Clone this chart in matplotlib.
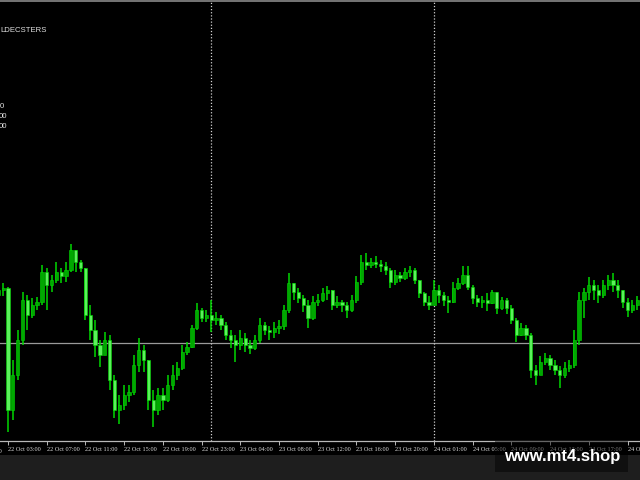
import matplotlib
matplotlib.use("Agg")
import matplotlib.pyplot as plt
from matplotlib.patches import Rectangle
import matplotlib.transforms as mtransforms

# ---- data (M30 candles, price in chart points) ----
opens = [146, 151, 153, 31, 66, 101, 141, 126, 136, 139, 169, 156, 161, 169, 165, 171, 191, 179, 173, 126,
         111, 96, 86, 101, 61, 31, 36, 46, 49, 76, 91, 81, 41, 31, 46, 41, 56, 66, 73, 89,
         94, 113, 131, 123, 126, 121, 123, 116, 106, 101, 96, 103, 96, 93, 101, 116, 111, 109, 113, 115,
         131, 158, 149, 143, 136, 123, 139, 141, 148, 151, 136, 139, 136, 131, 141, 159, 179, 176, 179, 177,
         175, 171, 159, 166, 163, 169, 171, 161, 148, 139, 136, 151, 146, 141, 139, 153, 158, 166, 154, 143,
         139, 141, 138, 149, 133, 141, 133, 121, 106, 113, 106, 71, 66, 79, 83, 76, 71, 66, 73, 76,
         101, 141, 149, 156, 151, 146, 156, 161, 156, 151, 139, 131, 136]
highs = [158, 158, 154, 81, 111, 149, 146, 143, 144, 176, 173, 166, 179, 173, 179, 197, 191, 181, 173, 136,
         121, 101, 109, 106, 66, 46, 56, 56, 86, 103, 96, 81, 51, 53, 53, 66, 76, 79, 96, 99,
         116, 138, 133, 131, 141, 129, 126, 119, 111, 106, 111, 108, 101, 106, 123, 119, 115, 119, 121, 136,
         168, 158, 153, 146, 141, 145, 147, 153, 155, 151, 145, 141, 139, 146, 165, 186, 188, 183, 185, 181,
         179, 173, 171, 169, 173, 175, 173, 161, 149, 145, 161, 156, 149, 145, 159, 163, 175, 175, 156, 146,
         145, 148, 151, 149, 144, 143, 136, 123, 118, 116, 108, 76, 85, 88, 86, 81, 75, 79, 81, 111,
         149, 153, 164, 161, 156, 161, 166, 168, 161, 151, 143, 141, 145]
lows = [141, 145, 9, 21, 61, 96, 111, 123, 131, 136, 131, 149, 158, 158, 159, 169, 169, 169, 121, 101,
        84, 74, 86, 51, 23, 17, 31, 39, 46, 69, 69, 31, 14, 26, 31, 39, 51, 61, 71, 86,
        93, 111, 119, 119, 109, 116, 111, 101, 93, 79, 91, 89, 87, 91, 98, 106, 101, 103, 107, 111,
        128, 141, 138, 129, 113, 121, 135, 139, 141, 131, 133, 129, 123, 129, 138, 156, 171, 173, 173, 169,
        166, 153, 156, 159, 161, 164, 157, 143, 135, 131, 136, 138, 135, 128, 138, 151, 156, 151, 137, 134,
        133, 130, 137, 127, 131, 127, 117, 99, 105, 101, 63, 56, 66, 76, 71, 66, 53, 63, 69, 73,
        96, 123, 141, 141, 138, 143, 151, 149, 143, 133, 124, 128, 131]
closes = [151, 153, 31, 66, 101, 141, 126, 136, 139, 169, 156, 161, 169, 165, 171, 191, 179, 173, 126, 111,
          96, 86, 101, 61, 31, 36, 46, 49, 76, 91, 81, 41, 31, 46, 41, 56, 66, 73, 89, 94,
          113, 131, 123, 126, 121, 123, 116, 106, 101, 96, 103, 96, 93, 101, 116, 111, 109, 113, 115, 131,
          158, 149, 143, 136, 123, 139, 141, 148, 151, 136, 139, 136, 131, 141, 159, 179, 176, 179, 177, 175,
          171, 159, 166, 163, 169, 171, 161, 148, 139, 136, 151, 146, 141, 139, 153, 158, 166, 154, 143, 139,
          141, 138, 149, 133, 141, 133, 121, 106, 113, 106, 71, 66, 79, 83, 76, 71, 66, 73, 76, 101,
          141, 149, 156, 151, 146, 156, 161, 156, 151, 139, 131, 136, 141]

tick_index = [2, 10, 18, 26, 34, 42, 50, 58, 66, 74, 82, 90, 98, 106, 114, 122, 130]
tick_labels = ["22 Oct 03:00", "22 Oct 07:00", "22 Oct 11:00", "22 Oct 15:00", "22 Oct 19:00",
               "22 Oct 23:00", "23 Oct 04:00", "23 Oct 08:00", "23 Oct 12:00", "23 Oct 16:00",
               "23 Oct 20:00", "24 Oct 01:00", "24 Oct 05:00", "24 Oct 09:00", "24 Oct 13:00",
               "24 Oct 17:00", "24 Oct 21:00"]
prev_label_index = -6
prev_label = "21 Oct 23:00"
day_separators = [44, 90]
hline_level = 98
symbol_text = "LDECSTERS"
info_lines = ["0", "00", "00"]
watermark = "www.mt4.shop"

# ---- figure ----
W, H = 640, 480
fig = plt.figure(figsize=(6.4, 4.8), dpi=100, facecolor="black")
fig.patches.append(Rectangle((0, 0), 1, 25 / H, transform=fig.transFigure,
                             facecolor="#1e1e1e", edgecolor="none", zorder=0))
ax = fig.add_axes([0, (H - 441) / H, 1, 440 / H])
ax.set_facecolor("black")

up_body = "#00a800"
dn_body = "#5cf05c"
wick_c = "#00d800"

x = list(range(len(closes)))
ax.vlines(x, lows, highs, color=wick_c, linewidth=1.1, zorder=3)
bottoms = [min(o, c) for o, c in zip(opens, closes)]
heights = [max(abs(c - o), 0.8) for o, c in zip(opens, closes)]
colors = [up_body if c >= o else dn_body for o, c in zip(opens, closes)]
ax.bar(x, heights, bottom=bottoms, width=0.68, color=colors, edgecolor=wick_c,
       linewidth=0.4, zorder=4)

ax.axhline(hline_level, color="#9a9a9a", linewidth=0.9, zorder=2)
for d in day_separators:
    ax.axvline(d, color="#d0d0d0", linewidth=0.9, linestyle=(0, (1, 1.5)), zorder=2)

ax.set_xlim(1.68 / 4.84, (640 + 1.68) / 4.84)
ax.set_ylim(0, 440)

for s in ["left", "right"]:
    ax.spines[s].set_visible(False)
ax.spines["bottom"].set_color("#b8b8b8")
ax.spines["bottom"].set_linewidth(0.9)
ax.spines["top"].set_color("#8a8a8a")
ax.spines["top"].set_linewidth(1.2)
ax.set_yticks([])
ax.set_xticks(tick_index)
ax.set_xticklabels(tick_labels, ha="left", fontsize=4.5, color="#dcdcdc",
                   family=["Liberation Serif", "DejaVu Serif"])
ax.tick_params(axis="x", direction="out", length=3, width=0.7, color="#b8b8b8", pad=1.5)
ax.text(prev_label_index, -0.018, prev_label,
        transform=mtransforms.blended_transform_factory(ax.transData, ax.transAxes),
        ha="left", va="top", fontsize=4.5, color="#dcdcdc", family=["Liberation Serif", "DejaVu Serif"],
        clip_on=False)

fig.text(0.5 / W, 1 - 30 / H, symbol_text, ha="left", va="center", fontsize=5.6,
         color="#e0e0e0", family=["Liberation Sans", "DejaVu Sans"])
for k, (t, xr) in enumerate(zip(info_lines, [3.5, 7, 7])):
    fig.text(xr / W, 1 - (106 + 10.5 * k) / H, t, ha="right", va="center", fontsize=5.6,
             color="#e0e0e0", family=["Liberation Sans", "DejaVu Sans"])

fig.patches.append(Rectangle((495 / W, (H - 472) / H), 133 / W, 31 / H, transform=fig.transFigure,
                             facecolor="black", alpha=0.45, edgecolor="none", zorder=5))
fig.text(562 / W, 1 - 457 / H, watermark, ha="center", va="center", fontsize=12,
         fontweight="bold", color="white", family=["Liberation Sans", "DejaVu Sans"], zorder=6)

fig.savefig("out.png", dpi=100, facecolor=fig.get_facecolor())
